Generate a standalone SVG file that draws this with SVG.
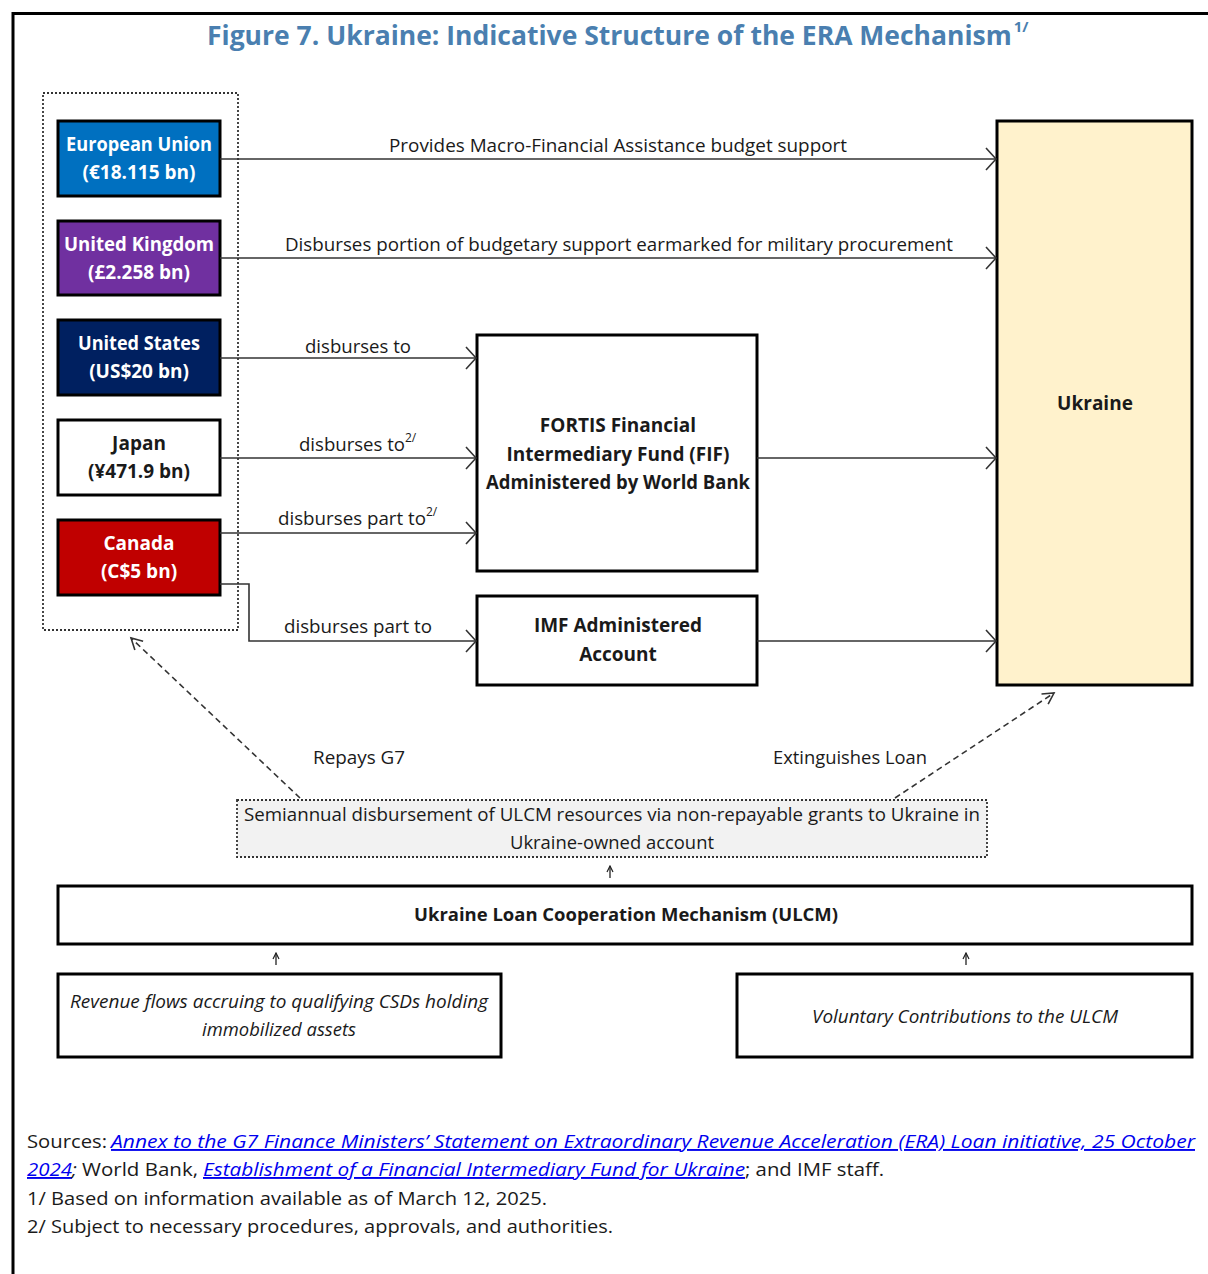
<svg xmlns="http://www.w3.org/2000/svg" width="1208" height="1274" viewBox="0 0 1208 1274">
<defs>
<style>
.t{font-family:"Open Sans","Noto Sans","Liberation Sans",sans-serif;fill:#1a1a1a}
.b{font-weight:bold}
.w{fill:#ffffff}
.lbl{font-size:18px}
.node{stroke:#000;stroke-width:3}
.conn{stroke:#333;stroke-width:1.6;fill:none}
.dash{stroke:#333;stroke-width:1.6;fill:none;stroke-dasharray:6,4}
.dot{stroke:#333;stroke-width:1.8;fill:none;stroke-dasharray:2,2}
.foot{font-size:19px}
.link{fill:#0000ee;font-style:italic;text-decoration:underline}
</style>
<marker id="ah" markerUnits="userSpaceOnUse" markerWidth="14" markerHeight="26" refX="11" refY="12" orient="auto">
<path d="M1,1 L11,12 L1,23" fill="none" stroke="#333" stroke-width="1.6"/>
</marker>
<marker id="ahs" markerUnits="userSpaceOnUse" markerWidth="16" markerHeight="16" refX="12" refY="7" orient="auto">
<path d="M1,1 L12,7 L1,13" fill="none" stroke="#333" stroke-width="1.6"/>
</marker>
<marker id="up" markerUnits="userSpaceOnUse" markerWidth="8" markerHeight="8" refX="7" refY="4" orient="auto">
<path d="M1,1 L7,4 L1,7" fill="none" stroke="#222" stroke-width="1.2"/>
</marker>
</defs>
<rect width="1208" height="1274" fill="#ffffff"/>
<!-- frame -->
<path d="M13,1274 V13.5 H1208" fill="none" stroke="#000" stroke-width="3"/>
<!-- title -->
<text class="t b" x="207" y="45" font-size="26.5" style="fill:#4a7fb0">Figure 7. Ukraine: Indicative Structure of the ERA Mechanism<tspan dx="2" dy="-13" font-size="15">1/</tspan></text>

<!-- donor group -->
<g id="donors-group">
<rect x="43" y="93" width="195" height="537" class="dot"/>
</g>
<g id="node-eu">
<rect x="58" y="121" width="162" height="75" fill="#0070c0" class="node"/>
<text class="t b w" x="139" y="151" font-size="19" text-anchor="middle" textLength="146" lengthAdjust="spacingAndGlyphs">European Union</text>
<text class="t b w" x="139" y="179" font-size="19" text-anchor="middle">(€18.115 bn)</text>
</g>
<g id="node-uk">
<rect x="58" y="221" width="162" height="74" fill="#7030a0" class="node"/>
<text class="t b w" x="139" y="251" font-size="19" text-anchor="middle" textLength="150" lengthAdjust="spacingAndGlyphs">United Kingdom</text>
<text class="t b w" x="139" y="279" font-size="19" text-anchor="middle">(£2.258 bn)</text>
</g>
<g id="node-us">
<rect x="58" y="320" width="162" height="75" fill="#002060" class="node"/>
<text class="t b w" x="139" y="350" font-size="19" text-anchor="middle" textLength="122" lengthAdjust="spacingAndGlyphs">United States</text>
<text class="t b w" x="139" y="378" font-size="19" text-anchor="middle">(US$20 bn)</text>
</g>
<g id="node-japan">
<rect x="58" y="420" width="162" height="75" fill="#ffffff" class="node"/>
<text class="t b" x="139" y="450" font-size="19" text-anchor="middle">Japan</text>
<text class="t b" x="139" y="478" font-size="19" text-anchor="middle">(¥471.9 bn)</text>
</g>
<g id="node-canada">
<rect x="58" y="520" width="162" height="75" fill="#c00000" class="node"/>
<text class="t b w" x="139" y="550" font-size="19" text-anchor="middle">Canada</text>
<text class="t b w" x="139" y="578" font-size="19" text-anchor="middle">(C$5 bn)</text>
</g>
<g id="node-fortis">
<rect x="477" y="335" width="280" height="236" fill="#ffffff" class="node"/>
<text class="t b" x="618" y="432" font-size="19" text-anchor="middle">FORTIS Financial</text>
<text class="t b" x="618" y="461" font-size="19" text-anchor="middle">Intermediary Fund (FIF)</text>
<text class="t b" x="618" y="489" font-size="19" text-anchor="middle" textLength="264" lengthAdjust="spacingAndGlyphs">Administered by World Bank</text>
</g>
<g id="node-imf">
<rect x="477" y="596" width="280" height="89" fill="#ffffff" class="node"/>
<text class="t b" x="618" y="632" font-size="19" text-anchor="middle">IMF Administered</text>
<text class="t b" x="618" y="661" font-size="19" text-anchor="middle">Account</text>
</g>
<g id="node-ukraine">
<rect x="997" y="121" width="195" height="564" fill="#fff2cc" class="node"/>
<text class="t b" x="1095" y="410" font-size="19" text-anchor="middle">Ukraine</text>
</g>
<g id="node-semiannual">
<rect x="237" y="800" width="750" height="57" fill="#f2f2f2" stroke="#333" stroke-width="1.8" stroke-dasharray="2,2"/>
<text class="t" x="612" y="821" font-size="18" text-anchor="middle" textLength="736" lengthAdjust="spacingAndGlyphs">Semiannual disbursement of ULCM resources via non-repayable grants to Ukraine in</text>
<text class="t" x="612" y="849" font-size="18" text-anchor="middle" textLength="204" lengthAdjust="spacingAndGlyphs">Ukraine-owned account</text>
</g>
<g id="node-ulcm">
<rect x="58" y="886" width="1134" height="58" fill="#ffffff" class="node"/>
<text class="t b" x="626" y="921" font-size="18" text-anchor="middle" textLength="424" lengthAdjust="spacingAndGlyphs">Ukraine Loan Cooperation Mechanism (ULCM)</text>
</g>
<g id="node-revenue">
<rect x="58" y="974" width="443" height="83" fill="#ffffff" class="node"/>
<text class="t" x="279" y="1008" font-size="18" font-style="italic" text-anchor="middle" textLength="418" lengthAdjust="spacingAndGlyphs">Revenue flows accruing to qualifying CSDs holding</text>
<text class="t" x="279" y="1036" font-size="18" font-style="italic" text-anchor="middle" textLength="154" lengthAdjust="spacingAndGlyphs">immobilized assets</text>
</g>
<g id="node-voluntary">
<rect x="737" y="974" width="455" height="83" fill="#ffffff" class="node"/>
<text class="t" x="965" y="1023" font-size="18" font-style="italic" text-anchor="middle" textLength="306" lengthAdjust="spacingAndGlyphs">Voluntary Contributions to the ULCM</text>
</g>

<g id="connectors">
<line x1="220" y1="159" x2="996" y2="159" class="conn" marker-end="url(#ah)"/>
<line x1="220" y1="258" x2="996" y2="258" class="conn" marker-end="url(#ah)"/>
<line x1="220" y1="358" x2="476" y2="358" class="conn" marker-end="url(#ah)"/>
<line x1="220" y1="458" x2="476" y2="458" class="conn" marker-end="url(#ah)"/>
<line x1="220" y1="533" x2="476" y2="533" class="conn" marker-end="url(#ah)"/>
<polyline points="220,584 249,584 249,641 476,641" class="conn" marker-end="url(#ah)"/>
<line x1="757" y1="458" x2="996" y2="458" class="conn" marker-end="url(#ah)"/>
<line x1="757" y1="641" x2="996" y2="641" class="conn" marker-end="url(#ah)"/>
<line x1="300" y1="798" x2="131" y2="638" class="dash" marker-end="url(#ahs)"/>
<line x1="895" y1="798" x2="1054" y2="693" class="dash" marker-end="url(#ahs)"/>
<line x1="610" y1="878" x2="610" y2="866" stroke="#222" stroke-width="1.3" marker-end="url(#up)"/>
<line x1="276" y1="965" x2="276" y2="953" stroke="#222" stroke-width="1.3" marker-end="url(#up)"/>
<line x1="966" y1="965" x2="966" y2="953" stroke="#222" stroke-width="1.3" marker-end="url(#up)"/>
<text class="t lbl" x="618" y="152" text-anchor="middle" textLength="458" lengthAdjust="spacingAndGlyphs">Provides Macro-Financial Assistance budget support</text>
<text class="t lbl" x="619" y="251" text-anchor="middle" textLength="668" lengthAdjust="spacingAndGlyphs">Disburses portion of budgetary support earmarked for military procurement</text>
<text class="t lbl" x="358" y="353" text-anchor="middle" textLength="106" lengthAdjust="spacingAndGlyphs">disburses to</text>
<text class="t lbl" x="299" y="451" textLength="106" lengthAdjust="spacingAndGlyphs">disburses to</text>
<text class="t" x="405" y="442" font-size="12">2/</text>
<text class="t lbl" x="278" y="525" textLength="148" lengthAdjust="spacingAndGlyphs">disburses part to</text>
<text class="t" x="426" y="516" font-size="12">2/</text>
<text class="t lbl" x="358" y="633" text-anchor="middle" textLength="148" lengthAdjust="spacingAndGlyphs">disburses part to</text>
<text class="t lbl" x="359" y="764" text-anchor="middle" textLength="92" lengthAdjust="spacingAndGlyphs">Repays G7</text>
<text class="t lbl" x="850" y="764" text-anchor="middle" textLength="154" lengthAdjust="spacingAndGlyphs">Extinguishes Loan</text>
</g>

<!-- footer -->
<g id="footer">
<text class="t foot" x="27" y="1148" textLength="80" lengthAdjust="spacingAndGlyphs">Sources:</text>
<text class="t foot link" x="111" y="1148" textLength="1084" lengthAdjust="spacingAndGlyphs">Annex to the G7 Finance Ministers’ Statement on Extraordinary Revenue Acceleration (ERA) Loan initiative, 25 October</text>
<text class="t foot link" x="27" y="1176" textLength="45" lengthAdjust="spacingAndGlyphs">2024</text>
<text class="t foot" x="72" y="1176" font-style="italic">;</text>
<text class="t foot" x="82" y="1176" textLength="116" lengthAdjust="spacingAndGlyphs">World Bank,</text>
<text class="t foot link" x="203" y="1176" textLength="542" lengthAdjust="spacingAndGlyphs">Establishment of a Financial Intermediary Fund for Ukraine</text>
<text class="t foot" x="745" y="1176" textLength="139" lengthAdjust="spacingAndGlyphs">; and IMF staff.</text>
<text class="t foot" x="27" y="1205" textLength="520" lengthAdjust="spacingAndGlyphs">1/ Based on information available as of March 12, 2025.</text>
<text class="t foot" x="27" y="1233" textLength="586" lengthAdjust="spacingAndGlyphs">2/ Subject to necessary procedures, approvals, and authorities.</text>
</g>
</svg>
